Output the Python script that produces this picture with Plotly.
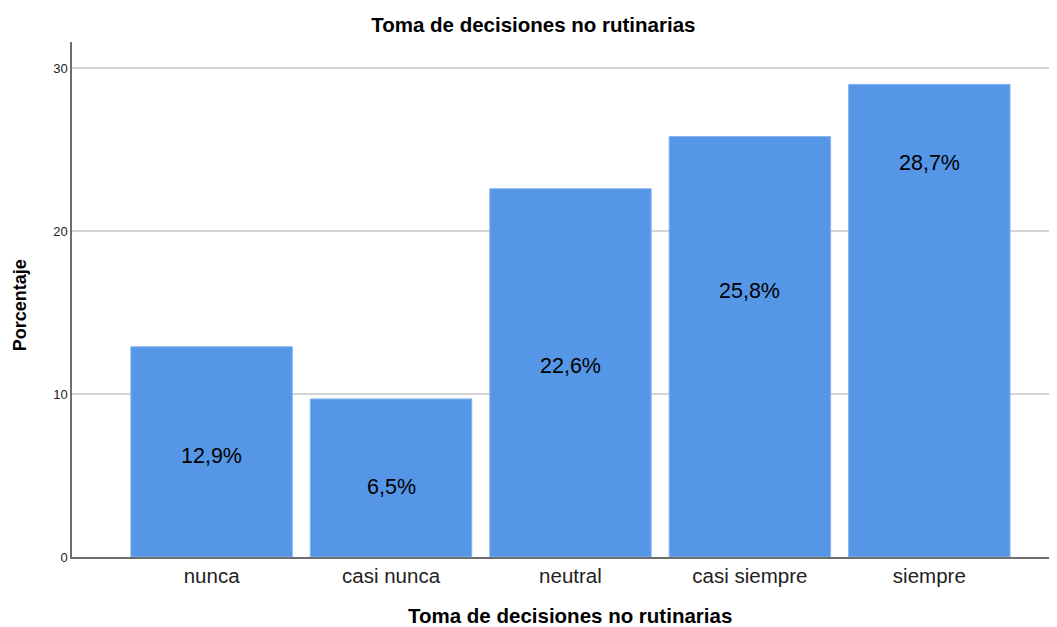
import plotly.graph_objects as go

categories = ["nunca", "casi nunca", "neutral", "casi siempre", "siempre"]
bar_values = [12.9, 9.7, 22.6, 25.8, 29.0]
label_texts = ["12,9%", "6,5%", "22,6%", "25,8%", "28,7%"]
label_pos = [6.2, 4.3, 11.7, 16.3, 24.2]
y_ticks = [0, 10, 20, 30]

FONT = "Liberation Sans, Arial"
TITLE = "Toma de decisiones no rutinarias"

fig = go.Figure()
fig.add_trace(go.Bar(
    x=categories, y=bar_values,
    marker=dict(color="#5596e6", line=dict(color="#8ab6ee", width=1)),
    hoverinfo="x+y",
))

for c, t, p in zip(categories, label_texts, label_pos):
    fig.add_annotation(x=c, y=p, text=t, showarrow=False,
                       font=dict(family=FONT, size=21.5, color="#000000"))

# x-axis title, centred under the middle category as in the reference
fig.add_annotation(x=categories[2], xref="x", y=-0.113, yref="paper", yanchor="middle",
                   text="<b>" + TITLE + "</b>", showarrow=False,
                   font=dict(family=FONT, size=20.5, color="#000000"))
# y-axis title
fig.add_annotation(x=0, xref="paper", xshift=-52, xanchor="center",
                   y=0.489, yref="paper", yanchor="middle", textangle=-90,
                   text="<b>Porcentaje</b>", showarrow=False,
                   font=dict(family=FONT, size=18, color="#000000"))

fig.update_layout(
    width=1057, height=627,
    margin=dict(l=64, r=9, t=34, b=78, autoexpand=False),
    paper_bgcolor="white", plot_bgcolor="white",
    bargap=0.1,
    showlegend=False,
    font=dict(family=FONT, color="#000000"),
    title=dict(text="<b>" + TITLE + "</b>", x=0.497, xanchor="center",
               y=0.973, yanchor="middle", font=dict(size=20.5, color="#000000")),
)
fig.update_xaxes(
    range=[-0.778, 4.706], automargin=False,
    showline=True, linecolor="#6e6e6e", linewidth=1.5,
    showgrid=False, ticks="",
    tickfont=dict(size=20.5, color="#222222"),
)
fig.update_yaxes(
    range=[0, 31.6], automargin=False,
    tickvals=y_ticks,
    showline=True, linecolor="#6e6e6e", linewidth=1.5,
    showgrid=True, gridcolor="#d4d4d4", gridwidth=1.5,
    zeroline=False, ticks="", ticklabelstandoff=0,
    tickfont=dict(size=13, color="#222222"),
)

fig.write_html("out.html")
